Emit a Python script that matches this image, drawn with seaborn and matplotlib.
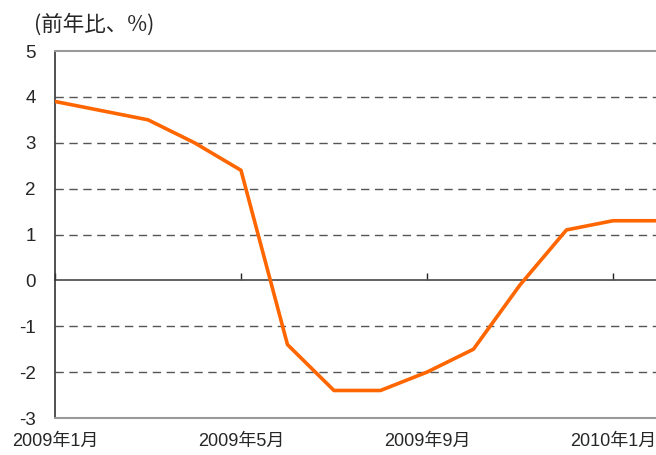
import numpy as np
import pandas as pd
import matplotlib
matplotlib.use('Agg')
import matplotlib.pyplot as plt
import seaborn as sns

# data (前年比, %)
months = ['2009-01', '2009-02', '2009-03', '2009-04', '2009-05', '2009-06', '2009-07',
          '2009-08', '2009-09', '2009-10', '2009-11', '2009-12', '2010-01', '2010-02']
values = [3.9, 3.7, 3.5, 3.0, 2.4, -1.4, -2.4, -2.4, -2.0, -1.5, -0.1, 1.1, 1.3, 1.3]
tick_pos = [0, 4, 8, 12]
tick_labels = ['2009年1月', '2009年5月', '2009年9月', '2010年1月']
y_ticks = [-3, -2, -1, 0, 1, 2, 3, 4, 5]
grid_levels = [-2, -1, 1, 2, 3, 4]

sns.set_style('white')
plt.rcParams['font.family'] = ['Liberation Sans', 'Noto Sans CJK JP', 'DejaVu Sans']
plt.rcParams['axes.unicode_minus'] = False

df = pd.DataFrame({'idx': np.arange(len(months)), 'value': values})

fig = plt.figure(figsize=(6.56, 4.55), dpi=100)
ax = fig.add_axes([0.0838, 0.0813, 0.9215, 0.8066])

# dashed grid lines
for g in grid_levels:
    ax.axhline(g, color='#555555', lw=1.0, ls=(0, (6, 4)), zorder=1)

sns.lineplot(data=df, x='idx', y='value', color='#FF6600', linewidth=2.6, ax=ax, zorder=3)

ax.set_xlim(0, 13)
ax.set_ylim(-3, 5)
ax.set_xlabel('')
ax.set_ylabel('')

ax.set_yticks(y_ticks)
ax.set_yticklabels([str(v) for v in y_ticks], fontsize=13.5)
ax.tick_params(axis='y', direction='in', length=4, width=1, color='#333333', pad=14)

ax.set_xticks(tick_pos)
ax.set_xticklabels(tick_labels, fontsize=13)
ax.tick_params(axis='x', length=0, pad=11)

for s in ['top', 'bottom']:
    ax.spines[s].set_color('#999999')
    ax.spines[s].set_linewidth(1.5)
ax.spines['right'].set_visible(False)
ax.spines['left'].set_color('#333333')
ax.spines['left'].set_linewidth(1.2)

# zero line with small upward ticks
zero = ax.secondary_xaxis(3 / 8)
zero.set_xticks(tick_pos)
zero.set_xticklabels([])
zero.tick_params(direction='in', length=5, width=1, color='#222222')
zero.spines['bottom'].set_color('#555555')
zero.spines['bottom'].set_linewidth(1.3)

fig.text(0.052, 0.945, '(前年比、%)', fontsize=15.5,
         family=['Noto Sans CJK JP', 'DejaVu Sans'], va='center', ha='left')

fig.savefig('out.png', dpi=100)
